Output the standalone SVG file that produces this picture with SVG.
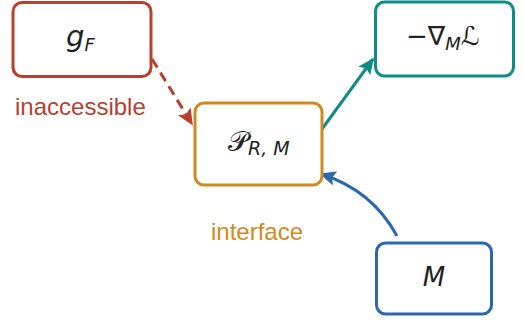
<svg xmlns="http://www.w3.org/2000/svg" width="523" height="322" viewBox="0 0 523 322">
  <style>
    .box { fill: #ffffff; stroke-width: 3; }
    .math { font-family: "DejaVu Sans", sans-serif; fill: #222222; }
    .it { font-style: italic; }
    .lbl { font-family: "Liberation Sans", Arial, sans-serif; font-size: 24px; }
    .edge { fill: none; stroke-width: 3; }
  </style>
  <defs>
    <marker id="ah-red" viewBox="0 0 10 10" refX="9" refY="5" markerWidth="5.5" markerHeight="5.5" orient="auto" markerUnits="strokeWidth">
      <path d="M0,0.5 L10,5 L0,9.5 L2,5 z" fill="#b8402e"/>
    </marker>
    <marker id="ah-teal" viewBox="0 0 10 10" refX="9" refY="5" markerWidth="5.5" markerHeight="5.5" orient="auto" markerUnits="strokeWidth">
      <path d="M0,0.5 L10,5 L0,9.5 L2,5 z" fill="#0f8c86"/>
    </marker>
    <marker id="ah-blue" viewBox="0 0 10 10" refX="9" refY="5" markerWidth="5.5" markerHeight="5.5" orient="auto" markerUnits="strokeWidth">
      <path d="M0,0.5 L10,5 L0,9.5 L2,5 z" fill="#2a68ad"/>
    </marker>
  </defs>

  <g id="edges">
    <path class="edge" d="M152,59 L192,124" stroke="#b8402e" stroke-dasharray="10,6" marker-end="url(#ah-red)"/>
    <path class="edge" d="M322,129 L373,59" stroke="#0f8c86" marker-end="url(#ah-teal)"/>
    <path class="edge" d="M397,236 Q372,190 321,174" stroke="#2a68ad" marker-end="url(#ah-blue)"/>
  </g>

  <g id="node-gF">
    <rect class="box" x="13" y="2.5" width="138" height="74" rx="9" stroke="#b8402e"/>
    <text class="math it" x="66" y="46" font-size="29">g<tspan font-size="18" dy="5">F</tspan></text>
  </g>

  <g id="node-P">
    <rect class="box" x="195" y="103" width="127" height="82" rx="9" stroke="#d08a1e"/>
    <text class="math" x="228" y="151" font-size="28">𝒫<tspan class="it" font-size="19" dy="4">R, M</tspan></text>
  </g>

  <g id="node-grad">
    <rect class="box" x="375.5" y="2" width="138" height="74" rx="9" stroke="#0f8c86"/>
    <text class="math" x="406" y="45" font-size="26">−∇<tspan class="it" font-size="18" dy="5">M</tspan><tspan dy="-5" font-size="26">ℒ</tspan></text>
  </g>

  <g id="node-M">
    <rect class="box" x="376.5" y="243" width="115" height="71" rx="9" stroke="#2a68ad"/>
    <text class="math it" x="434" y="286" font-size="26" text-anchor="middle">M</text>
  </g>

  <text class="lbl" x="15" y="115" fill="#b8402e">inaccessible</text>
  <text class="lbl" x="211" y="240" fill="#d08a1e">interface</text>
</svg>
